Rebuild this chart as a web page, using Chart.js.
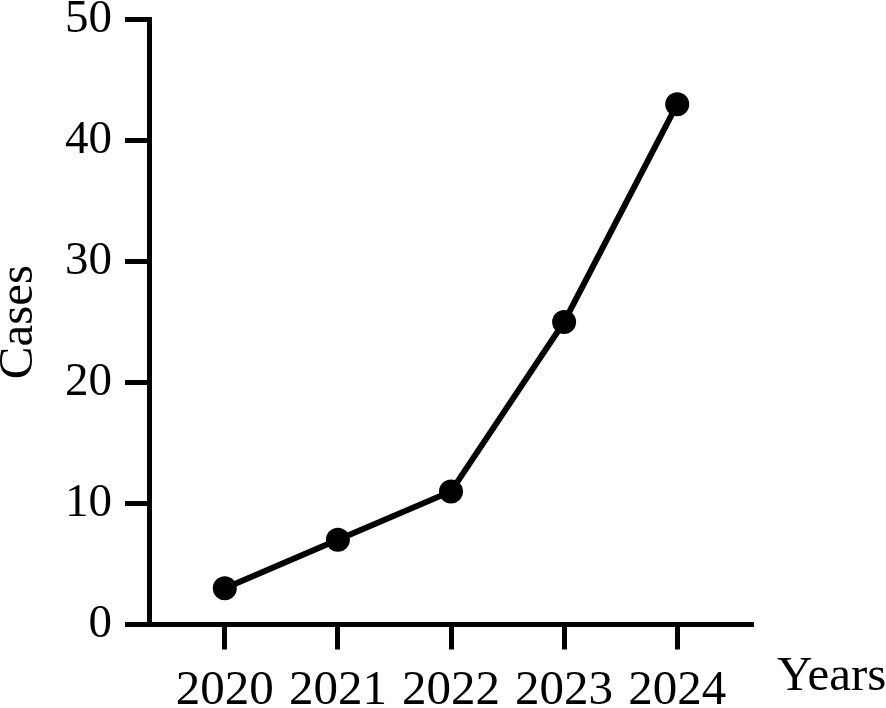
<!DOCTYPE html>
<html>
<head>
<meta charset="utf-8">
<script src="https://cdn.jsdelivr.net/npm/chart.js@4"></script>
<style>
  html, body { margin: 0; padding: 0; background: #fff; }
  #wrap { width: 886px; height: 708px; }
</style>
</head>
<body>
<div id="wrap"><canvas id="chart" width="886" height="708"></canvas></div>
<script>
// --- data ---
const years = ['2020', '2021', '2022', '2023', '2024'];
const cases = [3, 7, 11, 25, 43];
const yTicks = [0, 10, 20, 30, 40, 50];

const FONT = 'Liberation Serif, Times New Roman, serif';

// "Years" sits outside the plot, to the lower right
const xTitle = {
    id: 'xTitle',
    afterDraw(chart) {
        const ctx = chart.ctx;
        ctx.save();
        ctx.font = '49px ' + FONT;
        ctx.fillStyle = '#000';
        ctx.textAlign = 'left';
        ctx.textBaseline = 'alphabetic';
        ctx.fillText('Years', 777, 690);
        ctx.restore();
    }
};

const points = years.map((y, i) => ({ x: i, y: cases[i] }));

new Chart(document.getElementById('chart'), {
    type: 'line',
    data: {
        datasets: [{
            data: points,
            borderColor: '#000',
            backgroundColor: '#000',
            borderWidth: 6,
            pointRadius: 12,
            pointHoverRadius: 12,
            pointBackgroundColor: '#000',
            pointBorderWidth: 0,
            tension: 0,
            clip: false
        }]
    },
    options: {
        responsive: false,
        animation: false,
        layout: { autoPadding: false, padding: { left: 0, right: 133, top: 19.5, bottom: 0 } },
        plugins: { legend: { display: false }, tooltip: { enabled: false } },
        scales: {
            x: {
                type: 'linear',
                min: -0.67,
                max: 4.67,
                afterBuildTicks: (s) => { s.ticks = years.map((y, i) => ({ value: i })); },
                afterFit: (s) => {
                    s.height = 83.5;
                    s.paddingLeft = 0; s.paddingRight = 0;
                },
                border: { display: true, color: '#000', width: 5 },
                grid: { drawOnChartArea: false, drawTicks: true, tickLength: 25, tickWidth: 5, tickColor: '#000' },
                ticks: {
                    color: '#000',
                    font: { family: FONT, size: 49 },
                    padding: 12,
                    maxRotation: 0,
                    autoSkip: false,
                    callback: (v) => years[v]
                }
            },
            y: {
                min: 0,
                max: 50,
                afterBuildTicks: (s) => { s.ticks = yTicks.map(v => ({ value: v })); },
                afterFit: (s) => {
                    s.width = 149;
                    s.paddingTop = 0; s.paddingBottom = 0;
                },
                border: { display: true, color: '#000', width: 5 },
                grid: { drawOnChartArea: false, drawTicks: true, tickLength: 24, tickWidth: 5, tickColor: '#000' },
                ticks: {
                    color: '#000',
                    font: { family: FONT, size: 47 },
                    padding: 13
                },
                title: {
                    display: true,
                    text: 'Cases',
                    color: '#000',
                    font: { family: FONT, size: 49, lineHeight: 0.8 },
                    padding: 0
                }
            }
        }
    },
    plugins: [xTitle]
});
</script>
</body>
</html>
